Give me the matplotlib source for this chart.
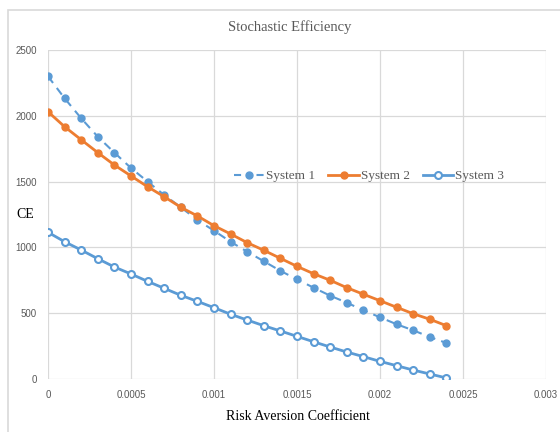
import matplotlib
matplotlib.use("Agg")
import matplotlib.pyplot as plt
from matplotlib.patches import Rectangle

x = [i * 0.0001 for i in range(25)]
system1 = [2300, 2133, 1981, 1841, 1720, 1603, 1500, 1398, 1305, 1208, 1127, 1043, 967,
           895, 822, 757, 694, 633, 580, 522, 469, 416, 370, 319, 274]
system2 = [2031, 1917, 1818, 1720, 1626, 1543, 1461, 1385, 1305, 1239, 1165, 1102, 1036,
           978, 917, 856, 800, 750, 694, 644, 595, 545, 496, 454, 405]
system3 = [1115, 1043, 980, 914, 851, 798, 742, 689, 636, 590, 542, 492, 448,
           405, 365, 324, 283, 243, 205, 170, 134, 101, 68, 38, 8]
xticks = [0, 0.0005, 0.001, 0.0015, 0.002, 0.0025, 0.003]
xticklabels = ["0", "0.0005", "0.001", "0.0015", "0.002", "0.0025", "0.003"]
yticks = [0, 500, 1000, 1500, 2000, 2500]

blue = "#5B9BD5"
orange = "#ED7D31"
gray = "#595959"
serif = ["Liberation Serif", "DejaVu Serif"]

fig = plt.figure(figsize=(5.6, 4.32), dpi=100)
fig.patches.append(Rectangle((8 / 560, -0.1), 1.2, 1 - 10 / 432 + 0.1, transform=fig.transFigure,
                             fill=False, edgecolor="#d9d9d9", linewidth=1.2))
ax = fig.add_axes([48 / 560, 1 - 379 / 432, (546 - 48) / 560, (379 - 50) / 432])

ax.plot(x, system1, color=blue, linestyle=(0, (4, 3)), linewidth=1.5, marker="o",
        markersize=5, markerfacecolor=blue, markeredgecolor=blue, label="System 1")
ax.plot(x, system2, color=orange, linewidth=2, marker="o", markersize=5,
        markerfacecolor=orange, markeredgecolor=orange, label="System 2")
ax.plot(x, system3, color=blue, linewidth=2, marker="o", markersize=5,
        markerfacecolor="white", markeredgecolor=blue, markeredgewidth=1.5, label="System 3")

ax.set_xlim(0, 0.003)
ax.set_ylim(0, 2500)
ax.set_xticks(xticks)
ax.set_xticklabels(xticklabels)
ax.set_yticks(yticks)
ax.grid(True, color="#d9d9d9", linewidth=0.9)
ax.set_axisbelow(True)
for s in ax.spines.values():
    s.set_visible(False)
ax.tick_params(length=0, labelsize=7, labelcolor=gray, pad=8)
for lab in ax.get_xticklabels() + ax.get_yticklabels():
    lab.set_family(["Liberation Sans", "DejaVu Sans"])

fig.text(290 / 560, 1 - 27 / 432, "Stochastic Efficiency", ha="center", va="center",
         family=serif, fontsize=10.5, color=gray)
fig.text(298 / 560, 1 - 416 / 432, "Risk Aversion Coefficient", ha="center", va="center",
         family=serif, fontsize=10, color="black")
fig.text(25 / 560, 1 - 215 / 432, "CE", ha="center", va="center",
         family=serif, fontsize=10, color="black")

leg = ax.legend(loc="center", bbox_to_anchor=(369 / 560, 1 - 176 / 432),
                bbox_transform=fig.transFigure, ncol=3, frameon=False,
                prop={"family": serif, "size": 9.5}, labelcolor=gray,
                handlelength=2.3, columnspacing=1.0, handletextpad=0.15)
leg.get_lines()[0].set_linestyle((0, (3.4, 7.4)))

fig.savefig("out.png", dpi=100)
